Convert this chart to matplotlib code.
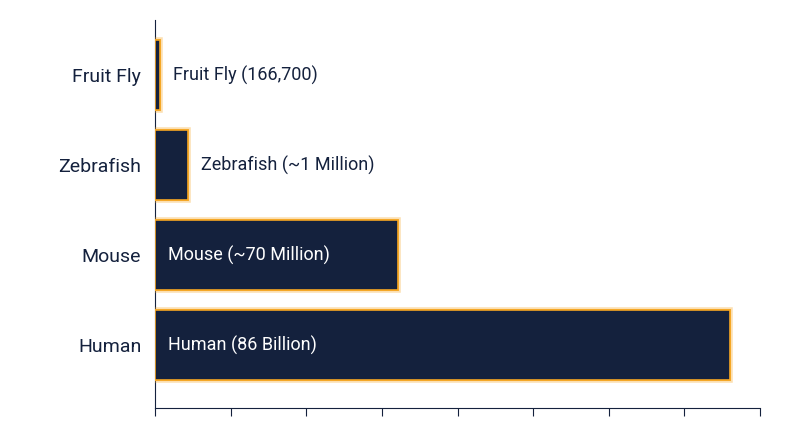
import matplotlib
matplotlib.use('Agg')
import matplotlib.pyplot as plt
import matplotlib.patheffects as pe

plt.rcParams['font.family'] = ['Roboto', 'DejaVu Sans']

species = ['Human', 'Mouse', 'Zebrafish', 'Fruit Fly']
labels = ['Human (86 Billion)', 'Mouse (~70 Million)', 'Zebrafish (~1 Million)', 'Fruit Fly (166,700)']
bar_len = [7.6, 3.21, 0.44, 0.07]   # bar lengths as drawn (axis units, 8 ticks)
inside = [True, True, False, False]

NAVY = '#14213d'
GLOW = '#f5a623'

fig = plt.figure(figsize=(8, 4.47), dpi=100)
ax = fig.add_axes([0.194, 0.087, 0.756, 0.868])
bars = ax.barh(range(len(species)), bar_len, height=0.78, color=NAVY,
               edgecolor=GLOW, linewidth=1.2, zorder=3)
for b in bars:
    b.set_path_effects([pe.withStroke(linewidth=4, foreground=GLOW, alpha=0.35), pe.Normal()])

for i, (v, t, ins) in enumerate(zip(bar_len, labels, inside)):
    if ins:
        ax.text(0.17, i, t, va='center', ha='left', fontsize=13, color='white', zorder=4)
    else:
        ax.text(v + 0.17, i, t, va='center', ha='left', fontsize=13, color=NAVY, zorder=4)

ax.set_xlim(0, 8)
ax.set_ylim(-0.7, 3.61)
ax.set_yticks(range(len(species)))
ax.set_yticklabels(species, fontsize=14, color=NAVY)
ax.set_xticks(range(9))
ax.set_xticklabels([])
ax.tick_params(axis='y', length=0, pad=10)
ax.tick_params(axis='x', length=6, color=NAVY)
for s in ['top', 'right']:
    ax.spines[s].set_visible(False)
for s in ['left', 'bottom']:
    ax.spines[s].set_color(NAVY)

fig.savefig('out.png', dpi=100, facecolor='white')
